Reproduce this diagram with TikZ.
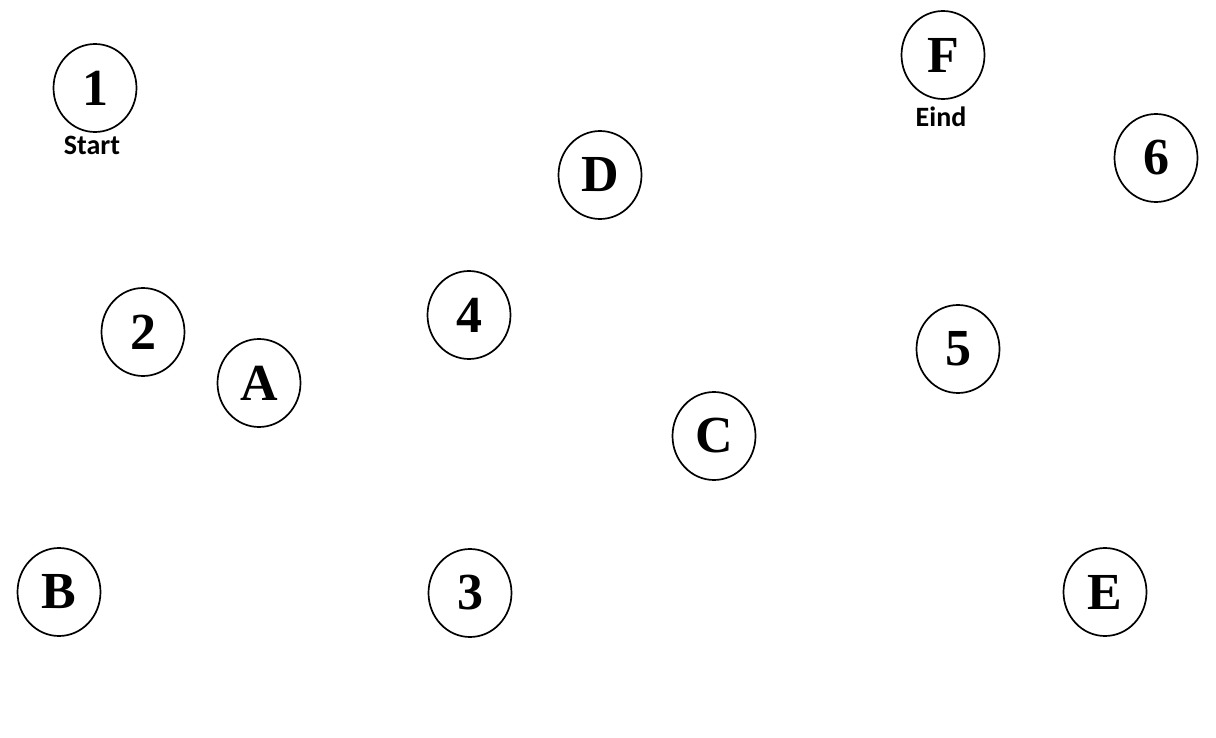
\documentclass[tikz,border=0pt]{standalone}
\usepackage{fontspec}
\setmainfont{Liberation Serif}
\newfontfamily\lblfont{Carlito}
\usetikzlibrary{shapes.geometric}
\begin{document}
\begin{tikzpicture}[x=1pt,y=-1pt,
  state/.style={draw=black, line width=1.7pt, ellipse, inner sep=0pt,
    minimum width=83pt, minimum height=88pt,
    font=\fontsize{52}{60}\selectfont\bfseries},
  caption/.style={anchor=base, font=\fontsize{28}{32}\selectfont\lblfont\bfseries}]
\useasboundingbox (0,0) rectangle (1216,738);
\node[state] (n1) at (95,88) {1};
\node[state] (nF) at (943,55) {F};
\node[state] (n6) at (1156,158) {6};
\node[state] (nD) at (600,175) {D};
\node[state] (n2) at (143,332) {2};
\node[state] (nA) at (259,383) {A};
\node[state] (n4) at (469,315) {4};
\node[state] (n5) at (958,349) {5};
\node[state] (nC) at (714,436) {C};
\node[state] (nB) at (59,592) {B};
\node[state] (n3) at (470,593) {3};
\node[state] (nE) at (1105,592) {E};
\node[caption] (start) at (92,155) {Start};
\node[caption] (eind) at (941,127) {Eind};
\end{tikzpicture}
\end{document}
